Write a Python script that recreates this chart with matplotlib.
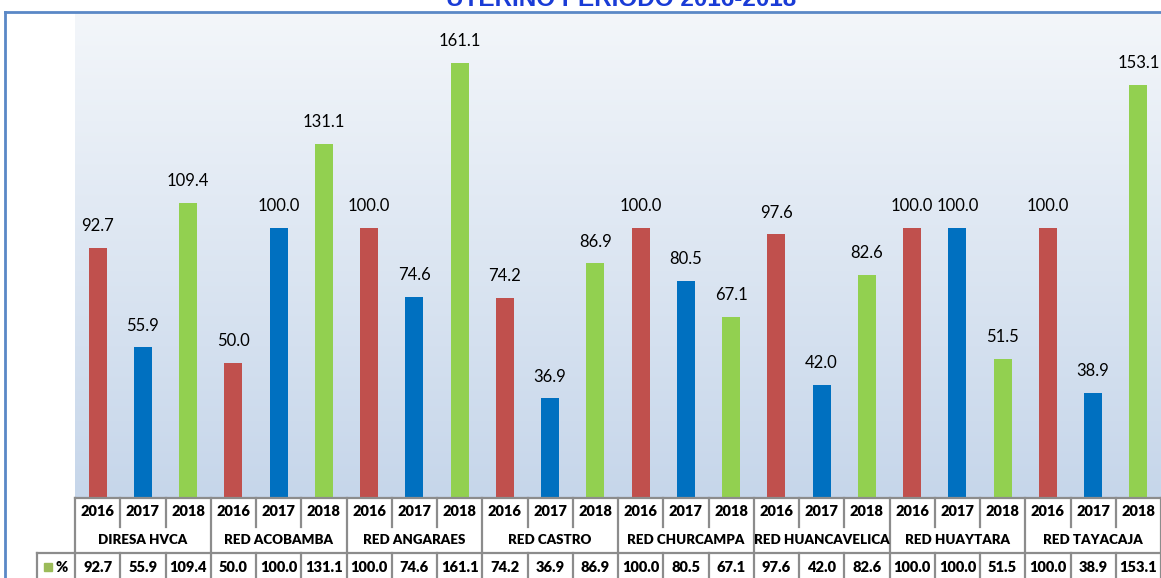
import numpy as np
import matplotlib
matplotlib.use("Agg")
import matplotlib.pyplot as plt
from matplotlib.transforms import blended_transform_factory
from matplotlib.patches import Rectangle

groups = ["DIRESA HVCA", "RED ACOBAMBA", "RED ANGARAES", "RED CASTRO",
          "RED CHURCAMPA", "RED HUANCAVELICA", "RED HUAYTARA", "RED TAYACAJA"]
years = ["2016", "2017", "2018"]
values = [92.7, 55.9, 109.4, 50.0, 100.0, 131.1, 100.0, 74.6, 161.1,
          74.2, 36.9, 86.9, 100.0, 80.5, 67.1, 97.6, 42.0, 82.6,
          100.0, 100.0, 51.5, 100.0, 38.9, 153.1]
year_colors = {"2016": "#C0504D", "2017": "#0070C0", "2018": "#92D050"}
title = "UTERINO PERIODO 2016-2018"
row_label = "%"

W, H = 1161, 578
fig = plt.figure(figsize=(W / 100, H / 100), dpi=100)

def fy(py):
    return 1 - py / H

def fx(px):
    return px / W

ax_l, ax_r, ax_t, ax_b = 75, 1161, 13, 498
ax = fig.add_axes([fx(ax_l), fy(ax_b), fx(ax_r - ax_l), (ax_b - ax_t) / H])

n = len(values)
x = np.arange(n)
year_labels = [years[i % 3] for i in range(n)]
colors = [year_colors[y] for y in year_labels]

ax.set_xlim(-0.5, n - 0.5)
ax.set_ylim(0, 179.6)

# gradient background
grad = np.linspace(0, 1, 256).reshape(-1, 1)
top = np.array([0.953, 0.965, 0.980])
bot = np.array([0.776, 0.839, 0.918])
img = top[None, None, :] * (1 - grad[:, :, None]) + bot[None, None, :] * grad[:, :, None]
ax.imshow(img, extent=[-0.5, n - 0.5, 0, 179.6], aspect="auto", zorder=0, origin="upper")

ax.bar(x, values, width=0.4, color=colors, zorder=2)
for xi, v in zip(x, values):
    ax.text(xi, v + 5, f"{v:.1f}", ha="center", va="bottom", fontsize=12,
            family="Lato", color="black", zorder=3)

for s in ax.spines.values():
    s.set_visible(False)
ax.set_xticks([])
ax.set_yticks([])

# table
tr = blended_transform_factory(ax.transData, fig.transFigure)
lc = "#8C8C8C"
lw = 1.6
def hline(x0, x1, py, transform=tr):
    fig.add_artist(plt.Line2D([x0, x1], [fy(py), fy(py)], color=lc, lw=lw, transform=transform, clip_on=False))
def vline(xv, py0, py1, transform=tr):
    fig.add_artist(plt.Line2D([xv, xv], [fy(py0), fy(py1)], color=lc, lw=lw, transform=transform, clip_on=False))

hline(-0.5, n - 0.5, 498)
hline(-0.5, n - 0.5, 553)
fig.add_artist(plt.Line2D([fx(37), fx(75)], [fy(553), fy(553)], color=lc, lw=lw,
                          transform=fig.transFigure, clip_on=False))
fig.add_artist(plt.Line2D([fx(37), fx(37)], [fy(553), fy(580)], color=lc, lw=lw,
                          transform=fig.transFigure, clip_on=False))
for b in range(n + 1):
    xb = b - 0.5
    if b % 3 == 0:
        vline(xb, 498, 580)
    else:
        vline(xb, 498, 527)
        vline(xb, 553, 580)

tfont = dict(family="Lato", fontsize=10.5, fontweight="heavy", color="black")
gfont = dict(family="Lato", fontsize=9.6, fontweight="heavy", color="black")
for xi, yl, v in zip(x, year_labels, values):
    fig.text(xi, fy(512), yl, ha="center", va="center", transform=tr, **tfont)
    fig.text(xi, fy(567), f"{v:.1f}", ha="center", va="center", transform=tr, **tfont)
for g, name in enumerate(groups):
    fig.text(3 * g + 1, fy(540), name, ha="center", va="center", transform=tr, **gfont)

fig.add_artist(Rectangle((fx(44), fy(571)), fx(8), 8 / H, color="#9BBB59",
                         transform=fig.transFigure))
fig.text(fx(56), fy(567), row_label, ha="left", va="center", **tfont)

# outer border
bc = "#5A88C6"
fig.add_artist(plt.Line2D([fx(5), fx(5)], [fy(12), 0], color=bc, lw=2, transform=fig.transFigure))
fig.add_artist(plt.Line2D([fx(5), 1], [fy(12), fy(12)], color=bc, lw=2, transform=fig.transFigure))

fig.text(fx(621), fy(6), title, ha="center", va="baseline", fontsize=17.5,
         fontweight="bold", family="Liberation Sans", color="#1A3CD6")

fig.savefig("out.png", dpi=100)
